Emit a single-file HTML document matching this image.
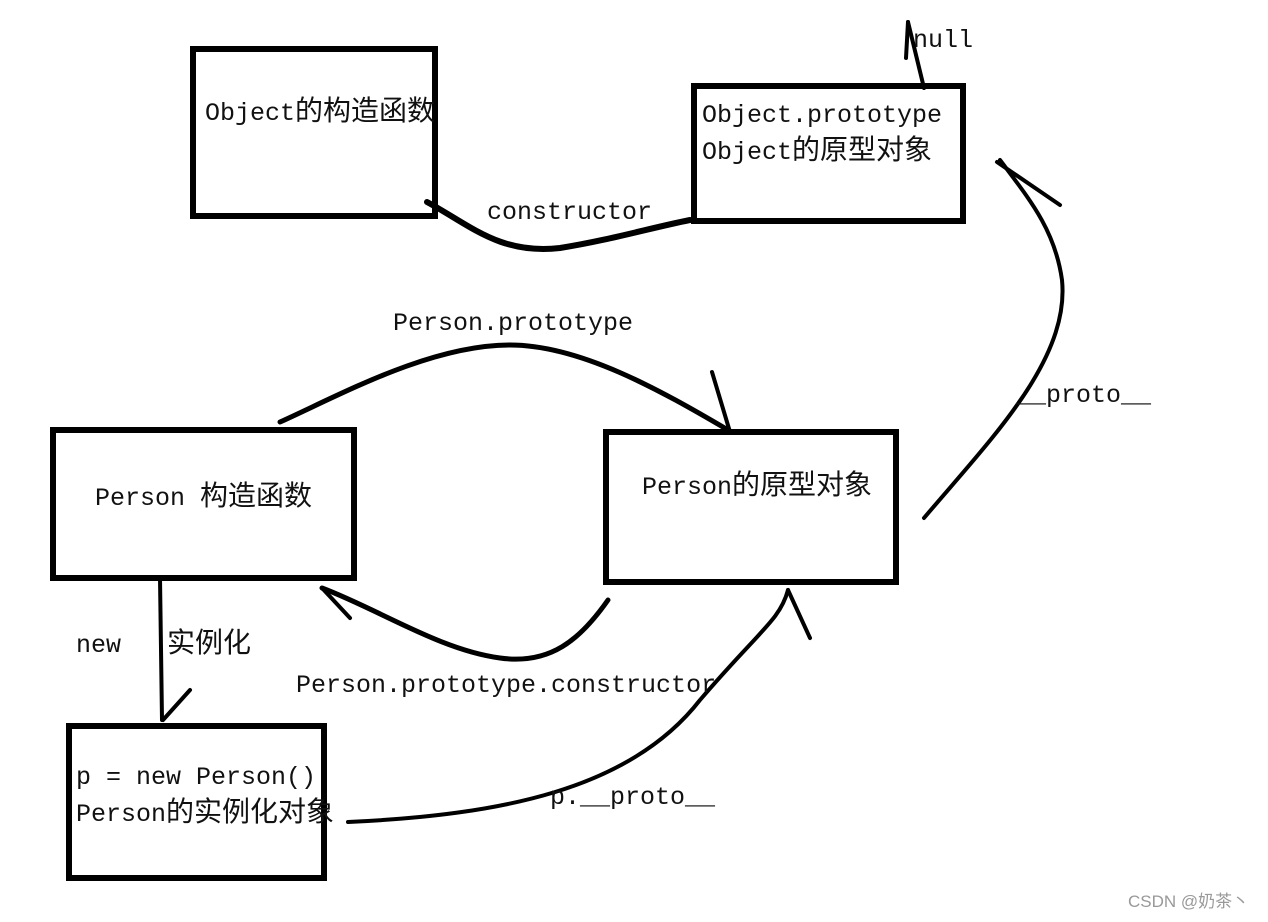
<!DOCTYPE html>
<html><head><meta charset="utf-8"><style>
html,body{margin:0;padding:0;background:#fff;}
svg text{font-family:"Liberation Mono","Noto Sans CJK SC",monospace;font-size:25px;fill:#111;}
svg tspan.c{font-size:28px;font-family:"Noto Sans CJK SC",sans-serif;}
</style></head><body>
<svg width="1268" height="917" viewBox="0 0 1268 917" xmlns="http://www.w3.org/2000/svg">
<g fill="none" stroke="#000" stroke-width="6">
<rect x="193" y="49" width="242" height="167"/>
<rect x="694" y="86" width="269" height="135"/>
<rect x="53" y="430" width="301" height="148"/>
<rect x="606" y="432" width="290" height="150"/>
<rect x="69" y="726" width="255" height="152"/>
</g>
<g fill="none" stroke="#000" stroke-linecap="round" stroke-linejoin="round">
<path d="M427 202 C470 225 500 255 560 248 C610 240 650 228 690 220" stroke-width="6"/>
<path d="M924 88 L908 22" stroke-width="4"/>
<path d="M908 22 L906 58" stroke-width="4"/>
<path d="M924 518 C990 440 1070 360 1062 280 C1055 230 1030 200 1000 160" stroke-width="4"/>
<path d="M997 162 L1060 205" stroke-width="4"/>
<path d="M280 422 C340 395 430 345 510 345 C580 345 660 390 728 430" stroke-width="5"/>
<path d="M712 372 L730 432" stroke-width="4"/>
<path d="M608 600 C580 640 550 665 500 658 C440 650 380 610 322 588" stroke-width="5"/>
<path d="M322 588 L350 618" stroke-width="4"/>
<path d="M160 578 L162 720" stroke-width="4"/>
<path d="M163 720 L190 690" stroke-width="4"/>
<path d="M348 822 C500 815 630 790 700 700 C760 630 780 620 788 590" stroke-width="4"/>
<path d="M788 590 L810 638" stroke-width="4"/>
</g>
<text x="205" y="120">Object<tspan class="c">的构造函数</tspan></text>
<text x="702" y="122">Object.prototype</text>
<text x="702" y="159">Object<tspan class="c">的原型对象</tspan></text>
<text x="913" y="47">null</text>
<text x="487" y="219">constructor</text>
<text x="393" y="330">Person.prototype</text>
<text x="1016" y="402">__proto__</text>
<text x="95" y="505">Person <tspan class="c">构造函数</tspan></text>
<text x="642" y="494">Person<tspan class="c">的原型对象</tspan></text>
<text x="76" y="652">new</text>
<text x="167" y="652"><tspan class="c">实例化</tspan></text>
<text x="296" y="692">Person.prototype.constructor</text>
<text x="76" y="784">p = new Person()</text>
<text x="76" y="821">Person<tspan class="c">的实例化对象</tspan></text>
<text x="550" y="804">p.__proto__</text>
<text x="1128" y="907" style="font-family:'Liberation Sans','Noto Sans CJK SC',sans-serif;font-size:17px;fill:#999">CSDN @奶茶丶</text>
</svg>
</body></html>
